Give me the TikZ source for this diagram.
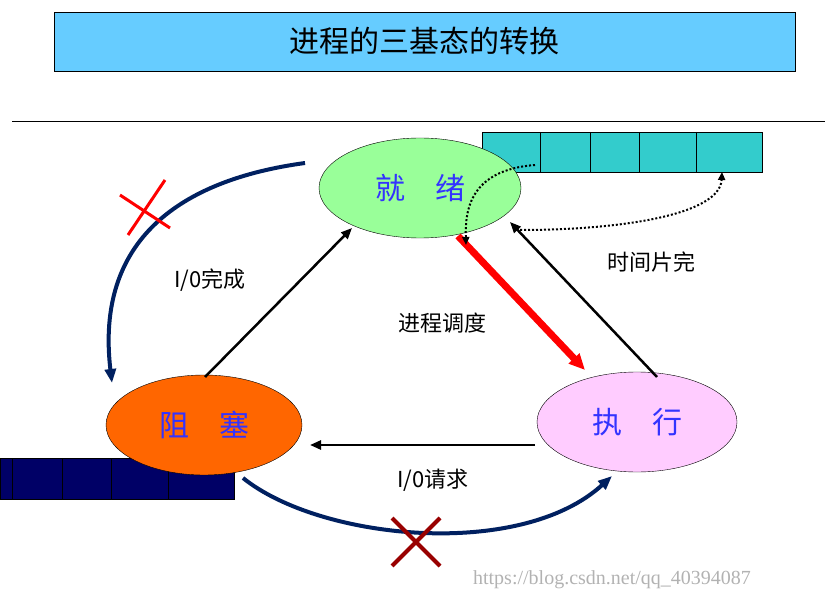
\documentclass[tikz,border=0pt]{standalone}
\usepackage{fontspec}
\setmainfont{Liberation Serif}
\newfontfamily\cjk{Noto Sans CJK SC}
\usetikzlibrary{shapes.geometric,arrows.meta}
\definecolor{titleblue}{RGB}{102,204,255}
\definecolor{qcyan}{RGB}{51,204,204}
\definecolor{qnavy}{RGB}{0,0,102}
\definecolor{curvenavy}{RGB}{0,32,96}
\definecolor{stategreen}{RGB}{153,255,153}
\definecolor{stateorange}{RGB}{255,102,0}
\definecolor{statepink}{RGB}{255,204,255}
\definecolor{statetext}{RGB}{51,51,255}
\tikzset{
  state/.style={ellipse,draw,minimum width=#1,minimum height=100pt,inner sep=0pt,
    font=\cjk\fontsize{30}{30}\selectfont,text=statetext},
  move/.style={-{Triangle[length=11pt,width=9pt]},line width=2.5pt},
  lab/.style={font=\cjk\fontsize{22}{22}\selectfont}
}
\begin{document}
\begin{tikzpicture}[x=1pt,y=-1pt]
\useasboundingbox (0,0) rectangle (825,604);
\node[draw,fill=titleblue,minimum width=741pt,minimum height=59pt,
  font=\cjk\fontsize{30}{30}\selectfont] (title) at (424.5,41.5) {进程的三基态的转换};
\draw[line width=0.8pt] (12,121) -- (825,121);
% queues
\draw[fill=qcyan] (482,132) rectangle (762,172);
\foreach \x in {540,590,639,696} \draw (\x,132) -- (\x,172);
\draw[fill=qnavy] (0,458) rectangle (234,499);
\foreach \x in {12,62,111,168} \draw (\x,458) -- (\x,499);
% states
\node[state=202pt,fill=stategreen] (ready) at (420,188) {就\quad 绪};
\node[state=196pt,fill=stateorange] (blocked) at (204,425) {阻\quad 塞};
\node[state=200pt,fill=statepink] (run) at (637,422) {执\quad 行};
% transitions
\draw[move] (205,377) -- (352,228);
\draw[move] (657,377) -- (510,222);
\draw[move] (535,445) -- (310,445);
\draw[-{Triangle[length=16pt,width=14pt]},line width=7pt,red] (458,236) -- (585,370);
\draw[-{Triangle[length=14pt,width=11pt]},line width=4pt,curvenavy]
  (305,163) .. controls (180,180) and (95,240) .. (112,383);
\draw[-{Triangle[length=14pt,width=11pt]},line width=4pt,curvenavy]
  (243,478) .. controls (320,540) and (520,560) .. (612,476);
\draw[dotted,line width=2pt,-{Triangle[length=8pt,width=7pt]}]
  (535,165) .. controls (470,170) and (465,210) .. (466,245);
\draw[dotted,line width=2pt,-{Triangle[length=8pt,width=7pt]}]
  (520,230) .. controls (620,230) and (720,215) .. (722,172);
% crosses
\draw[red,line width=3pt] (120,195) -- (170,228) (128,235) -- (165,180);
\draw[red!60!black,line width=4pt] (392,518) -- (440,566) (392,566) -- (440,518);
% labels
\node[lab] (done) at (210,280) {I/0完成};
\node[lab] (sched) at (442,323) {进程调度};
\node[lab] (slice) at (651,262) {时间片完};
\node[lab] (req) at (433,480) {I/0请求};
\node[text=black!30,font=\fontsize{20}{20}\selectfont] (mark) at (612,580) {https://blog.csdn.net/qq\_40394087};
\end{tikzpicture}
\end{document}
